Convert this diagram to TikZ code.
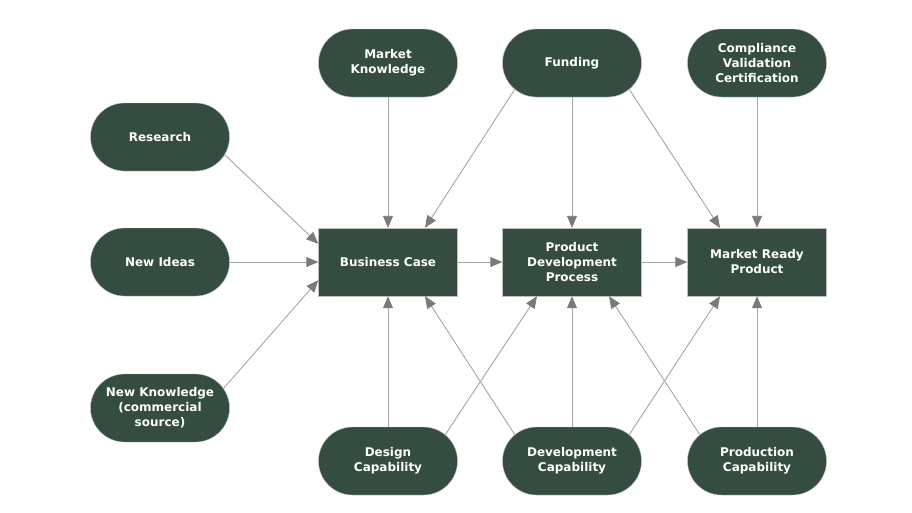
\documentclass[tikz,border=0pt]{standalone}
\usepackage{fontspec}
\setmainfont{DejaVu Sans}
\usetikzlibrary{arrows.meta}
\definecolor{mossgreen}{RGB}{52,77,64}
\definecolor{linkgray}{RGB}{165,165,165}
\definecolor{tipgray}{RGB}{122,122,122}
\begin{document}
\begin{tikzpicture}[x=1pt, y=-1pt,
  pill/.style={rectangle,rounded corners=34pt,fill=mossgreen,draw=gray!50,text=white,minimum width=139pt,minimum height=68pt,inner sep=0pt,align=center,font=\bfseries\fontsize{12}{15}\selectfont},
  box/.style={pill,rounded corners=0pt},
  link/.style={draw=linkgray,line width=0.9pt,-{Triangle[length=12pt,width=10pt,color=tipgray]}}]
\useasboundingbox (0,0) rectangle (912,512);
\node [pill](research) at (160,137) {Research};
\node [pill](ideas) at (160,262) {New Ideas};
\node [pill](knowledge) at (160,408) {New Knowledge\\(commercial\\source)};
\node [pill](market) at (388,63) {Market\\Knowledge};
\node [pill](funding) at (572,63) {Funding};
\node [pill](compliance) at (757,63) {Compliance\\Validation\\Certification};
\node [box](bcase) at (388,262) {Business Case};
\node [box](pdp) at (572,262) {Product\\Development\\Process};
\node [box](ready) at (757,262) {Market Ready\\Product};
\node [pill](design) at (388,461) {Design\\Capability};
\node [pill](devcap) at (572,461) {Development\\Capability};
\node [pill](prodcap) at (757,461) {Production\\Capability};
\path 
    ([shift={(65,18)}]research.center) edge[link] ([shift={(0,16)}]bcase.north west)
    (ideas.east) edge[link] (bcase.west)
    ([shift={(63,-19)}]knowledge.center) edge[link] ([shift={(0,-16)}]bcase.south west)
    (market.south) edge[link] (bcase.north)
    ([shift={(-57,26)}]funding.center) edge[link] ([shift={(37,0)}]bcase.north)
    (funding.south) edge[link] (pdp.north)
    ([shift={(57,26)}]funding.center) edge[link] ([shift={(-37,0)}]ready.north)
    (compliance.south) edge[link] (ready.north)
    (bcase.east) edge[link] (pdp.west)
    (pdp.east) edge[link] (ready.west)
    (design.north) edge[link] (bcase.south)
    ([shift={(57,-26)}]design.center) edge[link] ([shift={(-35,0)}]pdp.south)
    ([shift={(-57,-26)}]devcap.center) edge[link] ([shift={(37,0)}]bcase.south)
    (devcap.north) edge[link] (pdp.south)
    ([shift={(57,-26)}]devcap.center) edge[link] ([shift={(-37,0)}]ready.south)
    ([shift={(-57,-26)}]prodcap.center) edge[link] ([shift={(37,0)}]pdp.south)
    (prodcap.north) edge[link] (ready.south)
         ;
\end{tikzpicture}
\end{document}
